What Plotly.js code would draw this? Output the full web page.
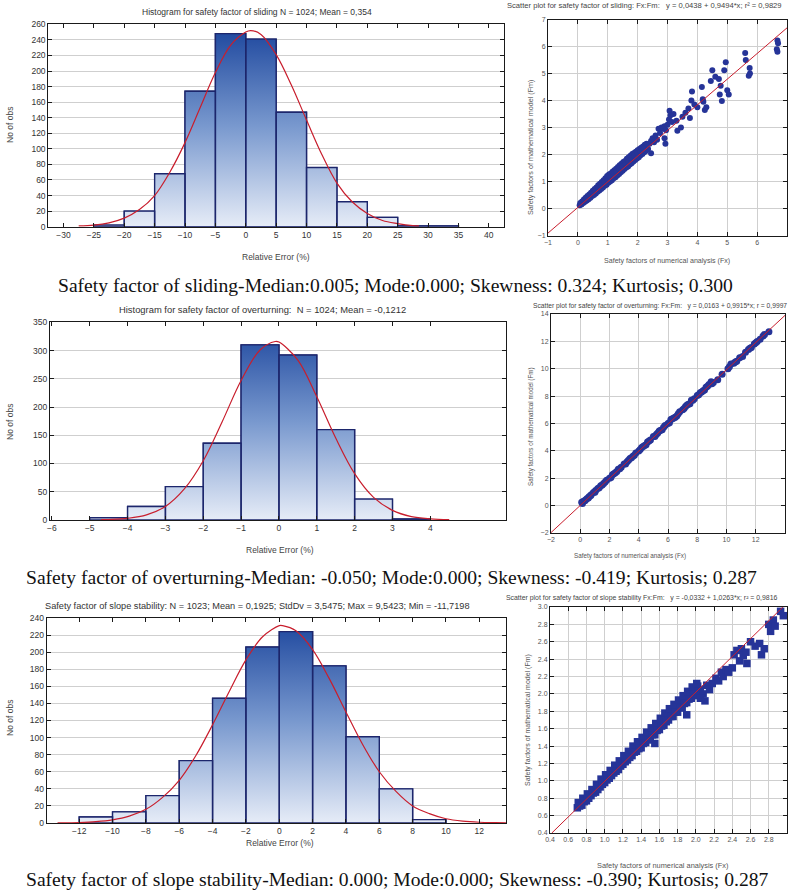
<!DOCTYPE html>
<html>
<head>
<meta charset="utf-8">
<script src="https://cdn.plot.ly/plotly-3.0.1.min.js"></script>
<style>html,body{margin:0;padding:0;background:#fff;}#chart{width:788px;height:890px;}</style>
</head>
<body>
<div id="chart"></div>
<script>
// ---------------- DATA ----------------
// Histogram 1: safety factor of sliding (bin width 5, first bin starts at -25)
const h1Start = -25, h1Width = 5;
const h1Counts = [2, 20, 68, 174, 248, 241, 147, 76, 32, 12, 1, 1];
const h1CurveX = [-27.5,-25,-22.5,-20,-17.5,-15,-12.5,-10,-7.5,-5,-2.5,0,0.8,2.5,5,7.5,10,12.5,15,17.5,20,22.5,25,27.5,28.5];
const h1CurveY = [1,2,5,11,22,40,70,108,153,198,233,250,252,247,221,182,137,93,56,32,17,8,4,1.4,1];

// Histogram 2: safety factor of overturning (bin width 1, first bin starts at -5)
const h2Start = -5, h2Width = 1;
const h2Counts = [4, 24, 59, 136, 310, 292, 160, 37, 2];
const h2CurveX = [-4.7,-4.5,-4,-3.5,-3,-2.5,-2,-1.5,-1,-0.5,-0.1,0,0.5,1,1.5,2,2.5,3,3.5,4,4.5];
const h2CurveY = [0.5,0.9,3,9,24,55,105,174,247,301,316,315,283,218,145,82,40,17,6,2,0.5];

// Histogram 3: safety factor of slope stability (bin width 2, first bin starts at -12)
const h3Start = -12, h3Width = 2;
const h3Counts = [7, 13, 32, 73, 146, 206, 224, 184, 101, 40, 4];
const h3CurveX = [-13.3,-13,-12,-11,-10,-9,-8,-7,-6,-5,-4,-3,-2,-1,0,0.2,1,2,3,4,5,6,7,8,9,10,11,12,13,13.6];
const h3CurveY = [0.2,0.2,0.6,1.6,3.7,8,16,30,50,79,115,154,191,218,231,231,225,203,169,130,92,60,37,20,11,5,2.2,0.9,0.4,0.2];

// Scatter 1: sliding (Fx numerical vs Fm model)
const s1x = [0.06,0.12,0.18,0.24,0.3,0.36,0.42,0.48,0.54,0.6,0.66,0.72,0.78,0.84,0.9,0.96,1.02,1.08,1.14,1.2,1.26,1.32,1.38,1.44,1.5,1.56,1.62,1.68,1.74,1.8,1.86,1.92,1.98,2.04,2.1,2.16,2.22,2.28,
  0.08,0.14,0.2,0.26,0.32,0.38,0.44,0.5,0.56,0.62,0.68,0.74,0.8,0.86,0.92,0.98,1.04,1.1,1.16,1.22,1.28,1.34,1.4,1.46,1.52,1.58,1.64,1.7,1.76,1.82,1.88,1.94,2.0,2.06,2.12,2.18,2.24,2.3,
  0.1,0.2,0.3,0.4,0.5,0.6,0.7,0.8,0.9,1.0,1.1,1.2,1.3,1.4,1.5,1.6,1.7,1.8,1.9,2.0,2.1,2.2,
  2.35,2.4,2.45,2.45,2.5,2.55,2.6,2.65,2.7,2.75,2.8,2.85,2.9,2.95,2.9,2.93,3.0,3.05,3.07,3.1,3.15,3.2,3.3,3.33,3.45,3.5,3.6,3.7,3.75,3.8,3.82,3.9,4.0,4.15,4.18,4.2,4.25,4.3,4.45,4.5,4.6,4.72,4.78,4.75,4.82,4.9,4.95,5.0,5.05,5.6,5.62,5.75,5.76,5.72,6.68,6.7,6.66,6.68];
const s1y = [0.12,0.15,0.2,0.25,0.3,0.34,0.4,0.46,0.5,0.56,0.62,0.67,0.72,0.78,0.84,0.88,0.95,1.0,1.05,1.12,1.16,1.22,1.28,1.34,1.4,1.46,1.52,1.56,1.63,1.68,1.74,1.8,1.85,1.9,1.97,2.02,2.08,2.13,
  0.2,0.26,0.33,0.4,0.46,0.52,0.58,0.66,0.72,0.78,0.86,0.92,0.98,1.05,1.12,1.2,1.26,1.3,1.36,1.42,1.47,1.54,1.6,1.66,1.72,1.76,1.84,1.9,1.95,2.02,2.06,2.1,2.16,2.2,2.25,2.3,2.36,2.4,
  0.16,0.25,0.36,0.44,0.55,0.66,0.76,0.86,0.96,1.06,1.16,1.26,1.36,1.45,1.56,1.65,1.76,1.84,1.95,2.04,2.12,2.22,
  2.2,2.4,2.05,2.5,2.6,2.45,2.7,2.55,2.95,2.8,3.0,2.95,3.05,2.9,2.6,2.4,3.1,3.3,3.62,3.45,3.2,3.5,3.25,2.88,3.0,3.4,3.55,3.7,3.35,4.0,4.33,3.85,3.75,4.5,4.05,3.95,3.65,3.75,4.72,5.12,4.88,4.8,4.55,4.22,3.98,5.12,5.42,4.38,4.22,5.76,5.5,5.2,5.0,4.92,6.22,6.12,5.9,5.81];
const s1LineX = [-1, 7];
const s1LineY = [-0.91, 6.69];

// Scatter 2: overturning
const s2x = [0.1,0.2,0.3,0.45,0.6,0.75,0.9,1.05,1.2,1.4,1.6,1.8,2.0,2.2,2.4,2.6,2.8,3.0,3.2,3.4,3.6,3.8,4.0,4.2,4.4,4.6,4.8,5.0,5.2,5.4,5.6,5.8,6.0,6.2,6.4,6.6,6.8,7.0,7.2,7.4,7.6,7.8,8.0,8.2,8.4,8.6,8.8,8.95,9.0,9.4,9.7,10.1,10.3,10.5,10.7,10.9,11.3,11.5,11.7,11.9,12.1,12.3,12.5,12.9,
  0.15,0.55,1.0,1.5,2.1,2.5,3.1,3.5,4.1,4.5,5.1,5.5,6.1,6.5,7.1,7.5,8.1,8.5,
  0.35,0.7,1.3,1.7,2.3,2.7,3.3,3.7,4.3,4.7,5.3,5.7,6.3,6.7,7.3,7.7,8.3,8.7,9.1,10.2,10.6,11.1,11.6,12.0,12.6];
const s2y = [0.25,0.3,0.35,0.5,0.65,0.8,0.95,1.1,1.25,1.45,1.62,1.85,2.0,2.25,2.4,2.65,2.8,3.05,3.2,3.45,3.6,3.85,4.0,4.25,4.4,4.65,4.8,5.05,5.2,5.45,5.55,5.85,6.0,6.3,6.4,6.55,6.85,7.0,7.25,7.4,7.7,7.8,8.05,8.25,8.4,8.65,8.85,9.05,8.9,9.2,9.6,10.0,10.35,10.4,10.55,10.8,11.2,11.4,11.55,11.8,12.0,12.15,12.4,12.7,
  0.15,0.55,0.98,1.5,2.05,2.5,3.05,3.5,4.1,4.45,5.05,5.5,6.05,6.45,7.1,7.45,8.1,8.45,
  0.4,0.72,1.3,1.72,2.32,2.7,3.32,3.68,4.32,4.72,5.3,5.72,6.35,6.72,7.35,7.7,8.3,8.72,9.0,10.15,10.5,10.9,11.5,11.9,12.5];
const s2LineX = [-2, 14];
const s2LineY = [-1.97, 13.9];

// Scatter 3: slope stability
const s3x = [0.7,0.75,0.8,0.85,0.9,0.95,1.0,1.05,1.1,1.15,1.2,1.25,1.3,1.35,1.4,1.45,1.5,1.55,1.6,1.65,1.7,1.75,1.8,1.85,1.9,1.95,2.0,2.05,
  0.72,0.77,0.82,0.87,0.92,0.97,1.02,1.07,1.12,1.17,1.22,1.27,1.32,1.37,1.42,1.47,1.52,1.57,1.62,1.67,1.72,1.77,1.82,1.87,1.92,1.97,2.02,
  0.71,0.76,0.81,0.86,0.91,0.96,1.01,1.06,1.11,1.16,1.21,1.26,1.31,1.36,1.41,1.46,1.51,1.56,1.61,1.66,1.71,1.76,1.81,1.86,1.91,1.96,2.01,
  0.725,0.775,0.825,0.875,0.925,0.975,1.025,1.075,1.125,1.175,1.225,1.275,1.325,1.375,1.425,1.475,1.525,1.575,1.625,1.675,1.725,1.775,1.825,1.875,1.925,1.975,2.025,
  2.08,2.12,2.15,2.18,2.22,2.25,2.28,2.3,2.33,2.36,2.4,2.42,2.45,2.48,2.5,2.52,2.55,2.56,2.6,2.65,2.7,2.72,2.75,2.8,2.82,2.85,2.87,2.93,2.96,1.9,1.55,2.05,2.1];
const s3y = [0.69,0.72,0.77,0.83,0.87,0.93,0.98,1.03,1.09,1.13,1.19,1.24,1.29,1.34,1.38,1.44,1.48,1.53,1.59,1.64,1.7,1.74,1.79,1.84,1.9,1.95,1.98,2.05,
  0.73,0.77,0.82,0.88,0.93,0.99,1.04,1.09,1.15,1.2,1.25,1.31,1.36,1.41,1.46,1.52,1.57,1.62,1.68,1.73,1.79,1.84,1.89,1.95,2.0,2.05,2.09,
  0.75,0.8,0.85,0.9,0.96,1.02,1.07,1.12,1.18,1.23,1.29,1.34,1.4,1.45,1.5,1.56,1.61,1.66,1.72,1.78,1.83,1.88,1.93,1.98,2.03,2.08,2.12,
  0.71,0.76,0.8,0.86,0.9,0.96,1.01,1.06,1.11,1.17,1.22,1.27,1.33,1.37,1.43,1.47,1.53,1.58,1.63,1.68,1.74,1.79,1.84,1.89,1.94,2.0,2.03,
  2.0,2.1,2.05,2.12,2.18,2.15,2.25,2.2,2.28,2.25,2.3,2.45,2.5,2.38,2.52,2.44,2.48,2.35,2.6,2.55,2.58,2.45,2.52,2.8,2.72,2.85,2.78,2.95,2.9,1.76,1.43,1.95,1.92];
const s3LineX = [0.42, 2.955];
const s3LineY = [0.4, 3.0];

// Texts
const hist1Title = "Histogram for safety factor of sliding N = 1024; Mean = 0,354";
const hist2Title = "Histogram for safety factor of overturning:  N = 1024; Mean = -0,1212";
const hist3Title = "Safety factor of slope stability: N = 1023; Mean = 0,1925; StdDv = 3,5475; Max = 9,5423; Min = -11,7198";
const sc1Title = "Scatter plot for safety factor of sliding: Fx:Fm:   y = 0,0438 + 0,9494*x; r² = 0,9829";
const sc2Title = "Scatter plot for safety factor of overturning: Fx:Fm:   y = 0,0163 + 0,9915*x; r = 0,9997";
const sc3Title = "Scatter plot for safety factor of slope stability Fx:Fm:   y = -0,0332 + 1,0263*x; r² = 0,9816";
const cap1 = "Safety factor of sliding-Median:0.005; Mode:0.000; Skewness: 0.324; Kurtosis; 0.300";
const cap2 = "Safety factor of overturning-Median: -0.050; Mode:0.000; Skewness: -0.419; Kurtosis; 0.287";
const cap3 = "Safety factor of slope stability-Median: 0.000; Mode:0.000; Skewness: -0.390; Kurtosis; 0.287";
const histYTitle = "No of obs";
const histXTitle = "Relative Error (%)";
const scYTitle = "Safety factors of mathematical model (Fm)";
const scXTitle = "Safety factors of numerical analysis (Fx)";

// ---------------- BUILD ----------------
const W = 788, H = 890;
const fx = px => px / W;
const fy = py => 1 - py / H;
const SANS = "Liberation Sans, Arial, sans-serif";
const SERIF = "Liberation Serif, Times New Roman, serif";
const BAR_LINE = "rgb(28,38,108)";
const CURVE = "rgb(200,30,45)";
const DOT = "rgb(38,52,152)";

function histTraces(start, width, counts, cx, cy, ymax, xa, ya) {
  const px = [], py = [], cxs = [];
  counts.forEach((c, i) => {
    const l = start + i * width, r = l + width;
    px.push(l, l, r, r, l, null); py.push(0, c, c, 0, 0, null);
    cxs.push(l + width / 2);
  });
  return [
    { type: "bar", x: cxs, y: counts, width: width, xaxis: xa, yaxis: ya, showlegend: false,
      marker: { color: "rgba(0,0,0,0)", line: { color: BAR_LINE, width: 1.3 } } },
    { type: "scatter", mode: "lines", x: px, y: py, fill: "toself", xaxis: xa, yaxis: ya,
      line: { width: 1.4, color: BAR_LINE }, hoverinfo: "skip", showlegend: false,
      fillcolor: "rgb(150,175,215)",
      fillgradient: { type: "vertical", start: 0, stop: ymax,
        colorscale: [[0, "rgb(230,236,247)"], [0.5, "rgb(120,152,206)"], [1, "rgb(26,68,156)"]] } },
    { type: "scatter", mode: "lines", x: cx, y: cy, xaxis: xa, yaxis: ya, showlegend: false,
      line: { color: CURVE, width: 1.2, shape: "spline", smoothing: 1 } }
  ];
}
function scatterTraces(sx, sy, lx, ly, xa, ya, size, symbol) {
  return [
    { type: "scatter", mode: "markers", x: sx, y: sy, xaxis: xa, yaxis: ya, showlegend: false,
      marker: { color: DOT, size: size, symbol: symbol || "circle", line: { width: 0 } } },
    { type: "scatter", mode: "lines", x: lx, y: ly, xaxis: xa, yaxis: ya, showlegend: false,
      line: { color: CURVE, width: 1 } }
  ];
}

const data = [].concat(
  histTraces(h1Start, h1Width, h1Counts, h1CurveX, h1CurveY, 260, "x", "y"),
  scatterTraces(s1x, s1y, s1LineX, s1LineY, "x2", "y2", 6),
  histTraces(h2Start, h2Width, h2Counts, h2CurveX, h2CurveY, 350, "x3", "y3"),
  scatterTraces(s2x, s2y, s2LineX, s2LineY, "x4", "y4", 7),
  histTraces(h3Start, h3Width, h3Counts, h3CurveX, h3CurveY, 240, "x5", "y5"),
  scatterTraces(s3x, s3y, s3LineX, s3LineY, "x6", "y6", 7.5, "square")
);

function axis(dom, range, anchor, extra, isY, sc) {
  return Object.assign({
    domain: isY ? [fy(dom[1]), fy(dom[0])] : [fx(dom[0]), fx(dom[1])],
    range: range, anchor: anchor, showline: true, linecolor: "#1a1a1a", linewidth: 1,
    mirror: "ticks", ticks: "inside", ticklen: 4, tickcolor: "#1a1a1a", zeroline: false,
    showgrid: sc ? true : isY, gridcolor: "#cfcfcf", gridwidth: 1,
    tickfont: { family: SANS, size: sc ? 7 : 8.5, color: sc ? "#555" : "#333" },
    fixedrange: true
  }, extra || {});
}

const layout = {
  width: W, height: H, margin: { l: 0, r: 0, t: 0, b: 0 },
  paper_bgcolor: "#fff", plot_bgcolor: "#fff", showlegend: false, bargap: 0,
  xaxis:  axis([48.3, 504], [-32.5, 42.5], "y", { tickvals: [-30,-25,-20,-15,-10,-5,0,5,10,15,20,25,30,35,40] }, false, false),
  yaxis:  axis([24.3, 226.7], [0, 260], "x", { dtick: 20 }, true, false),
  xaxis2: axis([548, 787], [-1, 7], "y2", { dtick: 1 }, false, true),
  yaxis2: axis([19.5, 235.5], [-1, 7], "x2", { dtick: 1 }, true, true),
  xaxis3: axis([50, 506], [-6.05, 6], "y3", { tickvals: [-6,-5,-4,-3,-2,-1,0,1,2,3,4] }, false, false),
  yaxis3: axis([322.3, 520], [0, 350], "x3", { dtick: 50 }, true, false),
  xaxis4: axis([551, 785], [-2, 14], "y4", { dtick: 2 }, false, true),
  yaxis4: axis([314, 533], [-2, 14], "x4", { dtick: 2 }, true, true),
  xaxis5: axis([46.7, 506], [-13.95, 13.6], "y5", { tickvals: [-14,-12,-10,-8,-6,-4,-2,0,2,4,6,8,10,12] }, false, false),
  yaxis5: axis([618, 823], [0, 240], "x5", { dtick: 20 }, true, false),
  xaxis6: axis([550, 787], [0.4, 3.0], "y6", { dtick: 0.2, tickformat: ".1f" }, false, true),
  yaxis6: axis([607, 833], [0.4, 3.0], "x6", { dtick: 0.2, tickformat: ".1f" }, true, true),
  annotations: []
};

function ann(text, px, py, size, color, opts) {
  layout.annotations.push(Object.assign({
    text: text, xref: "paper", yref: "paper", x: fx(px), y: fy(py),
    xanchor: "center", yanchor: "middle", showarrow: false,
    font: { family: SANS, size: size, color: color }
  }, opts || {}));
}
// histogram titles
ann(hist1Title, 257, 12, 8.5, "#333");
ann(hist2Title, 262, 309, 9.4, "#333");
ann(hist3Title, 257.5, 606, 9.2, "#333");
// scatter titles
ann(sc1Title, 644, 5.5, 7.6, "#444");
ann(sc2Title, 660, 306.5, 6.7, "#444");
ann(sc3Title, 504, 598, 6.9, "#444", { xanchor: "left" });
// axis titles
ann(histYTitle, 10, 125, 8.5, "#444", { textangle: -90 });
ann(histYTitle, 10, 422, 8.5, "#444", { textangle: -90 });
ann(histYTitle, 10, 718, 8.5, "#444", { textangle: -90 });
ann(histXTitle, 276, 257, 8.5, "#444");
ann(histXTitle, 280, 550, 8.5, "#444");
ann(histXTitle, 280, 843, 8.5, "#444");
ann(scYTitle, 530, 148, 7.2, "#555", { textangle: -90 });
ann(scYTitle, 531, 427, 6.3, "#555", { textangle: -90 });
ann(scYTitle, 528, 720, 7, "#555", { textangle: -90 });
ann(scXTitle, 667, 261, 7.1, "#555");
ann(scXTitle, 630, 556, 6.3, "#555");
ann(scXTitle, 662, 865, 7.4, "#555");
// captions
ann(cap1, 395, 285, 19.6, "#111", { font: { family: SERIF, size: 19.6, color: "#111" } });
ann(cap2, 391, 577, 19.6, "#111", { font: { family: SERIF, size: 19.6, color: "#111" } });
ann(cap3, 397, 879, 19.6, "#111", { font: { family: SERIF, size: 19.6, color: "#111" } });

Plotly.newPlot("chart", data, layout, { staticPlot: true, displayModeBar: false });
</script>
</body>
</html>
